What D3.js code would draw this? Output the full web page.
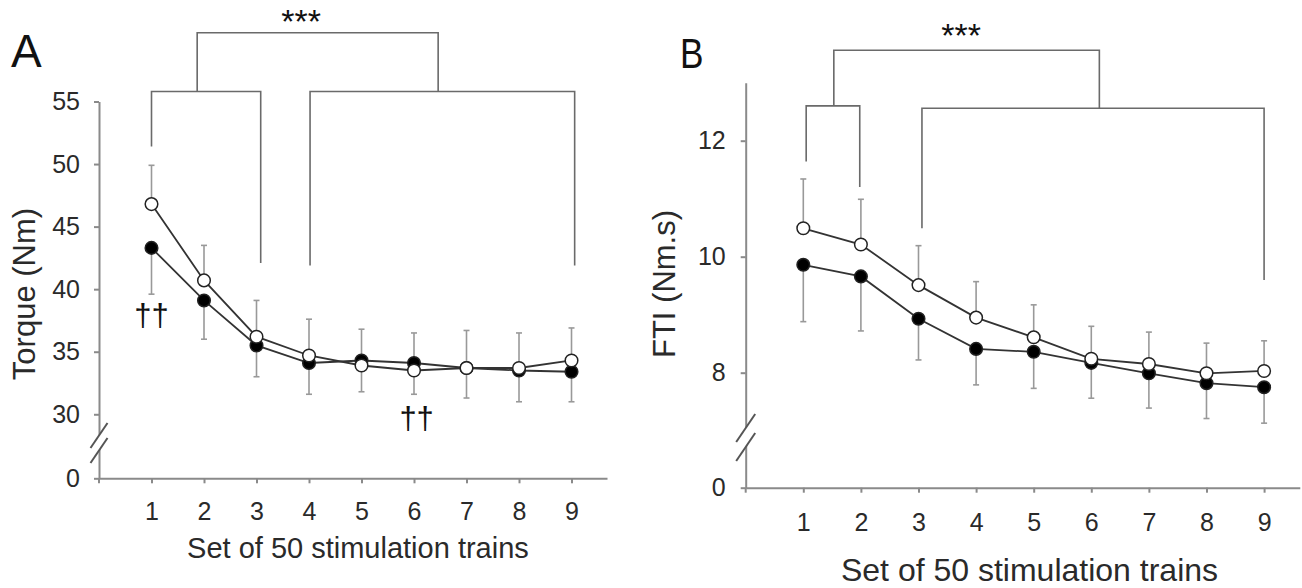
<!DOCTYPE html>
<html lang="en">
<head>
  <meta charset="UTF-8">
  <script src="https://d3js.org/d3.v7.min.js"></script>
  <title>Torque and FTI across stimulation sets</title>
  <style>
    body {
      margin: 0;
      background: #fff;
      font-family: "Liberation Sans", Arial, sans-serif;
      overflow: hidden;
    }
    .axis path, .axis line {
      stroke: #8a8a8a;
      stroke-width: 2;
    }
    .axis text {
      fill: #2a2a2a;
    }
  </style>
</head>
<body>
<script>

  // Set number on the x axis
  const sets = [1, 2, 3, 4, 5, 6, 7, 8, 9];

  // Panel A: torque (Nm), open and filled circles, mean and SD
  const torqueOpen = [46.8, 40.7, 36.2, 34.7, 33.9, 33.5, 33.7, 33.7, 34.3];
  const torqueOpenSD = [3.1, 2.8, 2.9, 2.9, 2.9, 3.0, 3.0, 2.8, 2.6];
  const torqueFilled = [43.3, 39.1, 35.5, 34.1, 34.3, 34.1, 33.7, 33.5, 33.4];
  const torqueFilledSD = [3.7, 3.1, 2.5, 2.5, 2.5, 2.5, 2.4, 2.5, 2.4];
  const torqueTicks = [0, 30, 35, 40, 45, 50, 55];

  // Panel B: FTI (Nm.s)
  const ftiOpen = [10.49, 10.21, 9.51, 8.95, 8.61, 8.24, 8.15, 7.99, 8.03];
  const ftiOpenSD = [0.85, 0.78, 0.68, 0.62, 0.56, 0.56, 0.55, 0.52, 0.52];
  const ftiFilled = [9.86, 9.66, 8.93, 8.41, 8.36, 8.17, 7.99, 7.82, 7.75];
  const ftiFilledSD = [0.98, 0.94, 0.71, 0.62, 0.63, 0.61, 0.60, 0.61, 0.62];
  const ftiTicks = [0, 8, 10, 12];

  // significance brackets (x in set units, heights in data units)
  const torqueBrackets = [
    { x1: 1, x2: 3.08, bar: 55.8, leg1: 51.4, leg2: 42.1 },
    { x1: 4.02, x2: 9.06, bar: 55.8, leg1: 41.9, leg2: 41.9 },
    { x1: 1.87, x2: 6.46, bar: 60.5, leg1: 55.8, leg2: 55.8 }
  ];
  const ftiBrackets = [
    { x1: 1.05, x2: 1.98, bar: 12.6, leg1: 11.64, leg2: 11.2 },
    { x1: 3.06, x2: 9.0, bar: 12.56, leg1: 10.49, leg2: 9.6 },
    { x1: 1.53, x2: 6.14, bar: 13.56, leg1: 12.6, leg2: 12.56 }
  ];
  const torqueMarks = [
    { text: "***", x: 3.85, y: 61.4 },
    { text: "††", x: 1, y: 37.9 },
    { text: "††", x: 6.05, y: 29.7 }
  ];
  const ftiMarks = [
    { text: "***", x: 3.74, y: 13.82 }
  ];

  const width = 1302, height = 588;

  const svg = d3.select("body").append("svg")
    .attr("width", width)
    .attr("height", height);

  svg.append("rect").attr("width", width).attr("height", height).attr("fill", "#fff");

  // piecewise y scales: the lower piece is the broken part of the axis
  const panels = [
    {
      letter: "A", letterX: 11, letterY: 67, letterSize: 46, letterScale: 1,
      yTitle: "Torque (Nm)", yTitleX: 24, yTitleY: 294, yTitleFont: 31,
      open: torqueOpen, openSD: torqueOpenSD,
      filled: torqueFilled, filledSD: torqueFilledSD,
      ticks: torqueTicks, brackets: torqueBrackets, marks: torqueMarks,
      x: d3.scaleLinear().domain([0, 9.676]).range([99, 607]),
      y: d3.scaleLinear().domain([0, 28, 55]).range([478.3, 439.3, 101.5]),
      tickFont: 25, titleFont: 29, markFont: 31, starFont: 34,
      xPad: 19, yPad: 14, titleY: 558, breakY: [435.5, 450.5], breakW: 8.5, breakH: 12.5
    },
    {
      letter: "B", letterX: 680, letterY: 68, letterSize: 43, letterScale: 0.82,
      yTitle: "FTI (Nm.s)", yTitleX: 664, yTitleY: 284, yTitleFont: 31,
      open: ftiOpen, openSD: ftiOpenSD,
      filled: ftiFilled, filledSD: ftiFilledSD,
      ticks: ftiTicks, brackets: ftiBrackets, marks: ftiMarks,
      x: d3.scaleLinear().domain([0, 9.62]).range([745.7, 1299.8]),
      y: d3.scaleLinear().domain([0, 7, 13]).range([487.7, 430.7, 82.7]),
      tickFont: 25, titleFont: 32, markFont: 31, starFont: 34,
      xPad: 21, yPad: 15, titleY: 581, breakY: [428, 447], breakW: 9.5, breakH: 14
    }
  ];

  panels.forEach(p => drawPanel(p));

  function drawPanel(p) {
    const g = svg.append("g");
    const x = p.x, y = p.y;
    const x0 = x(0), y0 = y(0);

    // axes
    g.append("g")
      .attr("class", "axis")
      .attr("transform", `translate(0,${y0})`)
      .call(d3.axisBottom(x).tickValues(sets).tickSize(5).tickSizeOuter(0).tickPadding(p.xPad))
      .call(a => a.selectAll("text").style("font-size", p.tickFont + "px")
        .style("font-family", "'Liberation Sans', Arial, sans-serif"));

    g.append("g")
      .attr("class", "axis")
      .attr("transform", `translate(${x0},0)`)
      .call(d3.axisLeft(y).tickValues(p.ticks).tickSize(5).tickSizeOuter(0).tickPadding(p.yPad))
      .call(a => a.selectAll("text").style("font-size", p.tickFont + "px")
        .style("font-family", "'Liberation Sans', Arial, sans-serif"));

    // small stub below the origin
    g.append("line")
      .attr("x1", x0).attr("x2", x0)
      .attr("y1", y0).attr("y2", y0 + 5)
      .attr("stroke", "#8a8a8a").attr("stroke-width", 2);

    // axis break marks
    const [b1, b2] = p.breakY;
    g.append("path")
      .attr("d", `M${x0 - p.breakW},${b1 + p.breakH} L${x0 + p.breakW},${b1 - p.breakH}
                  L${x0 + p.breakW},${b2 - p.breakH} L${x0 - p.breakW},${b2 + p.breakH}Z`)
      .attr("fill", "#fff");
    p.breakY.forEach(by => {
      g.append("line")
        .attr("x1", x0 - p.breakW).attr("y1", by + p.breakH)
        .attr("x2", x0 + p.breakW).attr("y2", by - p.breakH)
        .attr("stroke", "#555").attr("stroke-width", 2);
    });

    // axis titles
    g.append("text")
      .attr("x", (x(0.25) + x(9.5)) / 2 + 3)
      .attr("y", p.titleY)
      .attr("text-anchor", "middle")
      .style("font-size", p.titleFont + "px")
      .attr("fill", "#2a2a2a")
      .text("Set of 50 stimulation trains");

    g.append("text")
      .attr("transform", `translate(${p.yTitleX},${p.yTitleY}) rotate(-90)`)
      .attr("text-anchor", "middle")
      .attr("dominant-baseline", "central")
      .style("font-size", p.yTitleFont + "px")
      .attr("fill", "#2a2a2a")
      .text(p.yTitle);

    g.append("text")
      .attr("transform", `translate(${p.letterX},${p.letterY}) scale(${p.letterScale},1)`)
      .style("font-size", p.letterSize + "px")
      .attr("fill", "#111")
      .text(p.letter);

    // brackets
    p.brackets.forEach(b => {
      g.append("path")
        .attr("d", `M${x(b.x1)},${y(b.leg1)} L${x(b.x1)},${y(b.bar)} L${x(b.x2)},${y(b.bar)} L${x(b.x2)},${y(b.leg2)}`)
        .attr("fill", "none")
        .attr("stroke", "#6a6a6a")
        .attr("stroke-width", 1.6);
    });

    p.marks.forEach(m => {
      g.append("text")
        .attr("x", x(m.x)).attr("y", y(m.y))
        .attr("text-anchor", "middle")
        .attr("dominant-baseline", "central")
        .style("font-size", (m.text === "***" ? p.starFont : p.markFont) + "px")
        .attr("fill", "#111")
        .text(m.text);
    });

    // error bars: open upward, filled downward
    const bars = [
      { vals: p.open, sd: p.openSD, dir: 1 },
      { vals: p.filled, sd: p.filledSD, dir: -1 }
    ];
    bars.forEach(s => {
      sets.forEach((k, i) => {
        const v = s.vals[i], end = v + s.dir * s.sd[i];
        g.append("line")
          .attr("x1", x(k)).attr("x2", x(k))
          .attr("y1", y(v)).attr("y2", y(end))
          .attr("stroke", "#999").attr("stroke-width", 1.6);
        g.append("line")
          .attr("x1", x(k) - 3).attr("x2", x(k) + 3)
          .attr("y1", y(end)).attr("y2", y(end))
          .attr("stroke", "#999").attr("stroke-width", 1.6);
      });
    });

    const line = d3.line().x((d, i) => x(sets[i])).y(d => y(d));

    [{ vals: p.filled, fill: "#000" }, { vals: p.open, fill: "#fff" }].forEach(s => {
      g.append("path")
        .datum(s.vals)
        .attr("d", line)
        .attr("fill", "none")
        .attr("stroke", "#333")
        .attr("stroke-width", 1.8);

      g.selectAll(null)
        .data(s.vals)
        .enter().append("circle")
        .attr("cx", (d, i) => x(sets[i]))
        .attr("cy", d => y(d))
        .attr("r", 6.3)
        .attr("fill", s.fill)
        .attr("stroke", "#222")
        .attr("stroke-width", 1.5);
    });
  }

</script>
</body>
</html>
